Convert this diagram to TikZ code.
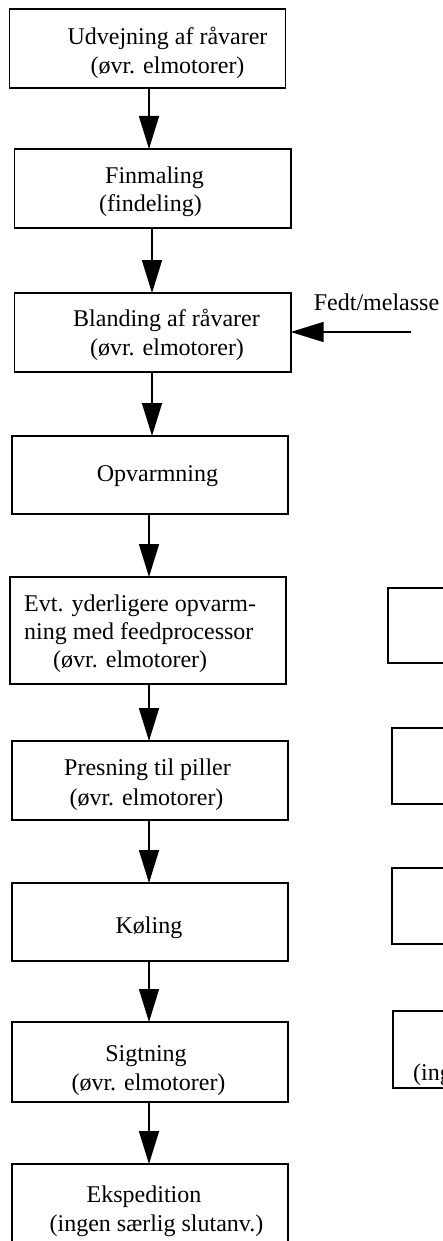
\documentclass[tikz,border=0pt]{standalone}
\usepackage{fontspec}
\setmainfont{Liberation Serif}
\usetikzlibrary{arrows.meta}
\begin{document}
\begin{tikzpicture}[x=1pt,y=-1pt,
  box/.style={draw=black,line width=1.6pt,inner sep=0pt,outer sep=0pt,anchor=north west},
  lbl/.style={font=\fontsize{24}{28}\selectfont,inner sep=0pt,anchor=base},
  lbll/.style={lbl,anchor=base west},
  arr/.style={line width=1.6pt,-{Triangle[width=20pt,length=33pt]}}]
\useasboundingbox (0,0) rectangle (443,1241);

% process steps (left column)
\node[box,minimum width=276pt,minimum height=79pt] (b1) at (9.5,9) {};
\node[box,minimum width=276.4pt,minimum height=79pt] (b2) at (14.3,149) {};
\node[box,minimum width=276.4pt,minimum height=79pt] (b3) at (14.3,293) {};
\node[box,minimum width=276pt,minimum height=78pt] (b4) at (12,436) {};
\node[box,minimum width=276pt,minimum height=107pt] (b5) at (10,577) {};
\node[box,minimum width=276pt,minimum height=79pt] (b6) at (12,741) {};
\node[box,minimum width=276pt,minimum height=78pt] (b7) at (12,883) {};
\node[box,minimum width=276pt,minimum height=80pt] (b8) at (12,1022) {};
\node[box,minimum width=276pt,minimum height=90pt] (b9) at (12,1164) {};

% boxes of the right column
\node[box,minimum width=80pt,minimum height=75pt] (r1) at (388,588) {};
\node[box,minimum width=80pt,minimum height=76pt] (r2) at (392,728) {};
\node[box,minimum width=80pt,minimum height=76pt] (r3) at (392,868) {};
\node[box,minimum width=80pt,minimum height=77pt] (r4) at (393,1011) {};

% labels
\node[lbl] (t1a) at (167.5,45) {Udvejning af råvarer};
\node[lbl] (t1b) at (167.5,73.3) {(øvr. elmotorer)};
\node[lbl] (t2a) at (154.5,183.3) {Finmaling};
\node[lbl] (t2b) at (150.5,211.7) {(findeling)};
\node[lbl] (t3a) at (166.5,326.7) {Blanding af råvarer};
\node[lbl] (t3b) at (167,355) {(øvr. elmotorer)};
\node[lbl] (t4) at (157.5,481.7) {Opvarmning};
\node[lbll] (t5a) at (24,611) {Evt. yderligere opvarm-};
\node[lbll] (t5b) at (24,639) {ning med feedprocessor};
\node[lbll] (t5c) at (53,667.5) {(øvr. elmotorer)};
\node[lbl] (t6a) at (147.5,775.7) {Presning til piller};
\node[lbl] (t6b) at (146.5,805) {(øvr. elmotorer)};
\node[lbl] (t7) at (149,933.3) {Køling};
\node[lbl] (t8a) at (146,1061.7) {Sigtning};
\node[lbl] (t8b) at (148.5,1090.7) {(øvr. elmotorer)};
\node[lbl] (t9a) at (144,1202.5) {Ekspedition};
\node[lbl] (t9b) at (156.5,1231) {(ingen særlig slutanv.)};
\node[lbll] (tr4) at (413,1080) {(ingen særlig slutanv.)};
\node[lbl] (tfm) at (376.5,310.7) {Fedt/melasse};

% flow arrows
\coordinate (xa) at (149,0);
\coordinate (xb) at (152,0);
\coordinate (fm) at (411,332);
\draw[arr] (b1.south -| xa) -- (b2.north -| xa);
\draw[arr] (b2.south -| xb) -- (b3.north -| xb);
\draw[arr] (b3.south -| xb) -- (b4.north -| xb);
\draw[arr] (b4.south -| xa) -- (b5.north -| xa);
\draw[arr] (b5.south -| xa) -- (b6.north -| xa);
\draw[arr] (b6.south -| xa) -- (b7.north -| xa);
\draw[arr] (b7.south -| xa) -- (b8.north -| xa);
\draw[arr] (b8.south -| xa) -- (b9.north -| xa);
\draw[arr] (fm) -- (b3.east |- fm);
\end{tikzpicture}
\end{document}
